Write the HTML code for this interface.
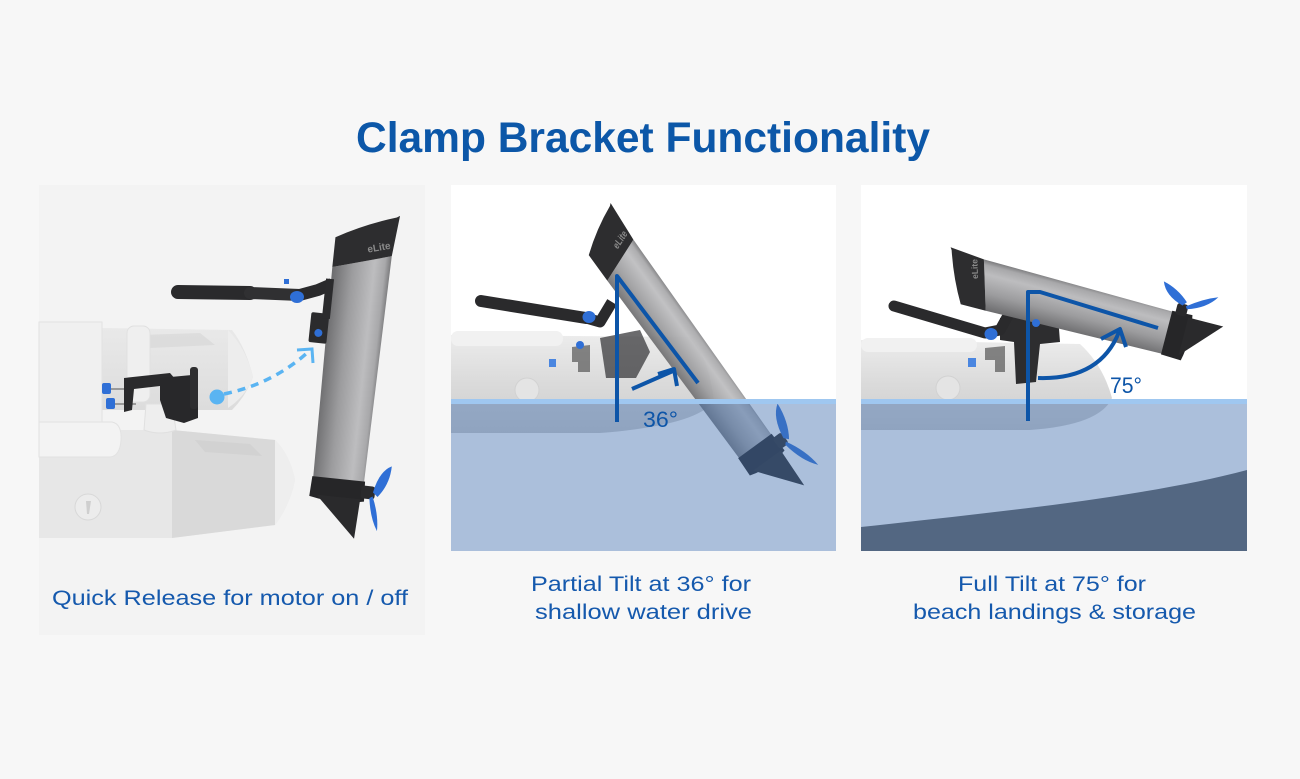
<!DOCTYPE html>
<html><head><meta charset="utf-8"><style>
html,body{margin:0;padding:0;background:#f7f7f7;width:1300px;height:779px;overflow:hidden}
svg{display:block}
</style></head><body>
<svg width="1300" height="779" viewBox="0 0 1300 779" xmlns="http://www.w3.org/2000/svg" font-family="'Liberation Sans', sans-serif">
<defs>
<linearGradient id="bodyG" x1="0" y1="0" x2="1" y2="0">
<stop offset="0" stop-color="#6c6c6e"/><stop offset="0.35" stop-color="#9c9c9e"/><stop offset="0.72" stop-color="#bdbdbf"/><stop offset="0.9" stop-color="#a8a8aa"/><stop offset="1" stop-color="#7a7a7c"/>
</linearGradient>
<linearGradient id="boatG" x1="0" y1="0" x2="0" y2="1">
<stop offset="0" stop-color="#ececec"/><stop offset="0.5" stop-color="#dadada"/><stop offset="1" stop-color="#cdcdcd"/>
</linearGradient>
<linearGradient id="tubeG" x1="0" y1="0" x2="0" y2="1">
<stop offset="0" stop-color="#e9e9e9"/><stop offset="1" stop-color="#dcdcdc"/>
</linearGradient>
<clipPath id="c2"><rect x="451" y="185" width="385" height="366"/></clipPath>
<clipPath id="c3"><rect x="861" y="185" width="386" height="366"/></clipPath>
</defs>

<rect width="1300" height="779" fill="#f7f7f7"/>

<!-- Title -->
<text x="356" y="152" font-size="43" font-weight="bold" fill="#0c57a8" textLength="574" lengthAdjust="spacingAndGlyphs">Clamp Bracket Functionality</text>

<!-- ================= PANEL 1 ================= -->
<rect x="39" y="185" width="386" height="450" fill="#f3f3f3"/>
<!-- upper tube -->
<path d="M100,328 L232,330 Q246,348 253,377 Q246,396 232,410 L100,410 Z" fill="url(#tubeG)"/>
<path d="M228,330 Q246,348 253,377 Q246,396 228,408 Z" fill="#ededed"/>
<path d="M140,335 L200,333 L215,345 L150,348 Z" fill="#d6d6d6" opacity="0.6"/>
<!-- top-left board -->
<rect x="39" y="322" width="63" height="100" fill="#f0f0f0" stroke="#e2e2e2"/>
<!-- strap -->
<rect x="127" y="326" width="23" height="76" rx="7" fill="#efefef" stroke="#e0e0e0"/>
<!-- lower tube -->
<path d="M39,430 L172,430 L275,440 Q290,455 295,480 Q290,505 275,525 L172,538 L39,538 Z" fill="#e7e7e7"/>
<path d="M172,430 L275,440 L275,525 L172,538 Z" fill="#d9d9d9"/>
<path d="M275,440 Q290,455 295,480 Q290,505 275,525 Z" fill="#eeeeee"/>
<path d="M195,440 L250,444 L262,456 L205,452 Z" fill="#cfcfcf" opacity="0.7"/>
<!-- lower floorboard -->
<path d="M39,422 L112,422 Q122,424 121,440 Q120,456 110,457 L39,457 Z" fill="#f3f3f3" stroke="#e2e2e2"/>
<!-- small strap -->
<path d="M146,404 L172,404 L176,430 Q160,436 144,430 Z" fill="#eeeeee" stroke="#e0e0e0"/>
<!-- valve -->
<circle cx="88" cy="507" r="13" fill="#ececec" stroke="#d8d8d8"/>
<path d="M86,501 L91,501 L89,514 L87,514 Z" fill="#cfcfcf"/>
<!-- clamp -->
<line x1="110" y1="389" x2="132" y2="389" stroke="#9a9a9a" stroke-width="2"/>
<line x1="114" y1="404" x2="136" y2="404" stroke="#9a9a9a" stroke-width="2"/>
<path d="M124,378 L170,373 L176,380 L176,394 L164,396 L160,386 L134,389 L132,410 L124,412 Z" fill="#2a2a2c"/>
<path d="M160,378 L192,375 L198,384 L198,418 L184,423 L166,418 L160,400 Z" fill="#28282a"/>
<rect x="190" y="367" width="8" height="42" rx="3" fill="#2e2e30"/>
<rect x="102" y="383" width="9" height="11" rx="2" fill="#2f6fd6"/>
<rect x="106" y="398" width="9" height="11" rx="2" fill="#2f6fd6"/>
<!-- dashed arrow -->
<path d="M224,394 Q272,384 307,353" fill="none" stroke="#5ab4f2" stroke-width="3.5" stroke-dasharray="8 6"/>
<circle cx="217" cy="397" r="7.5" fill="#5ab4f2"/>
<polyline points="297,350 312,349 313,363" fill="none" stroke="#5ab4f2" stroke-width="3"/>
<!-- tiller -->
<line x1="178" y1="292" x2="250" y2="293" stroke="#2a2a2c" stroke-width="14" stroke-linecap="round"/>
<line x1="250" y1="293" x2="300" y2="295" stroke="#303032" stroke-width="12" stroke-linecap="round"/>
<path d="M296,296 L318,290 L332,284" fill="none" stroke="#2a2a2c" stroke-width="12" stroke-linejoin="round"/>
<ellipse cx="297" cy="297" rx="7" ry="6" fill="#2f6fd6"/>
<rect x="284" y="279" width="5" height="5" fill="#2f6fd6"/>
<!-- motor 1 -->
<g transform="translate(361,262) rotate(6)">
<path d="M-28,8 L30,-9 L26,222 L-25,222 Z" fill="url(#bodyG)"/>
<path d="M-28,8 L-28,-22 Q0,-38 31,-48 L34,-50 L30,-9 Z" fill="#2d2d2f"/>
<text x="6" y="-10" font-size="10" font-weight="bold" fill="#8a8a8a" transform="rotate(-16 6 -10)">eLite</text>
<rect x="-44" y="55" width="18" height="30" rx="2" fill="#2b2b2d"/>
<circle cx="-35" cy="75" r="4" fill="#2f6fd6"/>
<rect x="-33" y="20" width="8" height="40" fill="#2b2b2d"/>
<path d="M-26,218 L27,218 L28,238 Q0,244 -27,238 Z" fill="#262628"/>
<path d="M-20,236 L24,236 L22,276 Z" fill="#2a2a2c"/>
<rect x="24" y="222" width="14" height="13" rx="3" fill="#2a2a2c"/>
<path d="M36,228 Q40,206 52,200 Q52,218 41,232 Z" fill="#2f6fd6"/>
<path d="M36,232 Q44,250 44,266 Q36,254 33,234 Z" fill="#2f6fd6"/>
</g>
<text x="52" y="605" font-size="21" fill="#1559ad" textLength="356" lengthAdjust="spacingAndGlyphs">Quick Release for motor on / off</text>

<!-- ================= PANEL 2 ================= -->
<rect x="451" y="185" width="385" height="366" fill="#ffffff"/>
<g clip-path="url(#c2)">
<path d="M451,335 L690,337 Q708,355 714,400 Q700,425 600,433 L451,433 Z" fill="url(#boatG)"/>
<rect x="451" y="331" width="112" height="15" rx="7" fill="#f1f1f1"/>
<circle cx="527" cy="390" r="12" fill="#e4e4e4" stroke="#d2d2d2"/>
<rect x="549" y="359" width="7" height="8" fill="#4a86e0"/>
<path d="M572,347 L590,345 L590,372 L578,372 L578,362 L572,362 Z" fill="#555" opacity="0.7"/>
<path d="M600,338 L640,330 L650,352 L636,378 L606,378 Z" fill="#3a3a3c" opacity="0.75"/>
<!-- tiller -->
<line x1="481" y1="301" x2="586" y2="318" stroke="#2a2a2c" stroke-width="12" stroke-linecap="round"/>
<path d="M586,318 L600,322 L612,302" fill="none" stroke="#2a2a2c" stroke-width="11" stroke-linejoin="round"/>
<ellipse cx="589" cy="317" rx="6.5" ry="6" fill="#2f6fd6"/>
<!-- motor 2 -->
<g transform="translate(620,261) rotate(-36) scale(0.78,1.05)">
<path d="M-28,8 L30,-9 L26,222 L-25,222 Z" fill="url(#bodyG)" opacity="0.93"/>
<path d="M-28,8 L-28,-22 Q0,-38 31,-48 L34,-50 L30,-9 Z" fill="#2d2d2f"/>
<text x="6" y="-10" font-size="10" font-weight="bold" fill="#8a8a8a" transform="rotate(-16 6 -10)">eLite</text>
<path d="M-26,218 L27,218 L28,238 Q0,244 -27,238 Z" fill="#262628"/>
<path d="M-20,236 L24,236 L22,276 Z" fill="#2a2a2c"/>
<rect x="24" y="222" width="14" height="13" rx="3" fill="#2a2a2c"/>
<path d="M36,228 Q40,206 56,198 Q54,218 41,232 Z" fill="#2f6fd6"/>
<path d="M36,232 Q50,250 52,268 Q38,256 33,234 Z" fill="#2f6fd6"/>
</g>
<circle cx="580" cy="345" r="4" fill="#2f6fd6"/>
<!-- water -->
<rect x="451" y="401" width="385" height="150" fill="rgb(69,113,175)" opacity="0.45"/>
<rect x="451" y="399" width="385" height="5" fill="#9fc7f0"/>
</g>
<!-- angle 36 -->
<g stroke="#0d55a8" stroke-width="4" fill="none" stroke-linejoin="round" stroke-linecap="butt">
<polyline points="617,422 617,276 698,383"/>
<path d="M632,389 Q650,381 673,371"/>
<polyline points="658,374 674,369 677,386"/>
</g>
<text x="643" y="427" font-size="22" fill="#0d55a8" textLength="35" lengthAdjust="spacingAndGlyphs">36°</text>
<text x="531" y="591" font-size="21" fill="#1559ad" textLength="220" lengthAdjust="spacingAndGlyphs">Partial Tilt at 36° for</text>
<text x="535" y="619" font-size="21" fill="#1559ad" textLength="217" lengthAdjust="spacingAndGlyphs">shallow water drive</text>

<!-- ================= PANEL 3 ================= -->
<rect x="861" y="185" width="386" height="366" fill="#ffffff"/>
<g clip-path="url(#c3)">
<path d="M861,340 L1080,344 Q1103,365 1112,398 Q1100,425 1030,430 L861,430 Z" fill="url(#boatG)"/>
<rect x="861" y="338" width="116" height="14" rx="7" fill="#f1f1f1"/>
<circle cx="948" cy="388" r="12" fill="#e4e4e4" stroke="#d2d2d2"/>
<rect x="968" y="358" width="8" height="9" fill="#4a86e0"/>
<path d="M985,348 L1005,346 L1005,372 L995,372 L995,360 L985,360 Z" fill="#555" opacity="0.7"/>
<!-- bracket -->
<path d="M1000,318 L1058,316 L1060,342 L1040,344 L1036,382 L1016,384 L1014,342 L1000,340 Z" fill="#2d2d2f"/>
<!-- tiller -->
<line x1="894" y1="306" x2="985" y2="333" stroke="#2a2a2c" stroke-width="11" stroke-linecap="round"/>
<path d="M985,333 L1000,330 L1010,312" fill="none" stroke="#2a2a2c" stroke-width="11" stroke-linejoin="round"/>
<ellipse cx="991" cy="334" rx="6.5" ry="6" fill="#2f6fd6"/>
<!-- motor 3 -->
<g transform="translate(985,286) rotate(-75.5) scale(0.85,0.86)">
<path d="M-28,8 L30,-9 L26,222 L-25,222 Z" fill="url(#bodyG)"/>
<path d="M-28,8 L-28,-22 Q0,-38 31,-48 L34,-50 L30,-9 Z" fill="#2d2d2f"/>
<text x="6" y="-10" font-size="10" font-weight="bold" fill="#8a8a8a" transform="rotate(-16 6 -10)">eLite</text>
<path d="M-26,218 L27,218 L28,242 Q0,248 -27,242 Z" fill="#262628"/>
<path d="M-22,238 L24,238 L24,280 Z" fill="#2a2a2c"/>
<rect x="24" y="222" width="14" height="13" rx="3" fill="#2a2a2c"/>
<path d="M36,228 Q42,206 58,200 Q54,218 41,232 Z" fill="#2f6fd6"/>
<path d="M36,232 Q50,250 56,266 Q40,256 33,234 Z" fill="#2f6fd6"/>
</g>
<circle cx="1036" cy="323" r="4" fill="#2f6fd6"/>
<!-- water -->
<rect x="861" y="401" width="386" height="150" fill="rgb(69,113,175)" opacity="0.45"/>
<rect x="861" y="399" width="386" height="5" fill="#9fc7f0"/>
<path d="M861,527 C1000,512 1150,496 1247,470 L1247,551 L861,551 Z" fill="#536782"/>
</g>
<!-- angle 75 -->
<g stroke="#0d55a8" stroke-width="4" fill="none" stroke-linejoin="round">
<polyline points="1028,421 1028,292 1040,292 1158,328"/>
<path d="M1038,378 Q1100,380 1119,332"/>
<polyline points="1101,339 1120,329 1126,347"/>
</g>
<text x="1110" y="393" font-size="22" fill="#0d55a8" textLength="32" lengthAdjust="spacingAndGlyphs">75°</text>
<text x="958" y="591" font-size="21" fill="#1559ad" textLength="188" lengthAdjust="spacingAndGlyphs">Full Tilt at 75° for</text>
<text x="913" y="619" font-size="21" fill="#1559ad" textLength="283" lengthAdjust="spacingAndGlyphs">beach landings &amp; storage</text>
</svg>
</body></html>
